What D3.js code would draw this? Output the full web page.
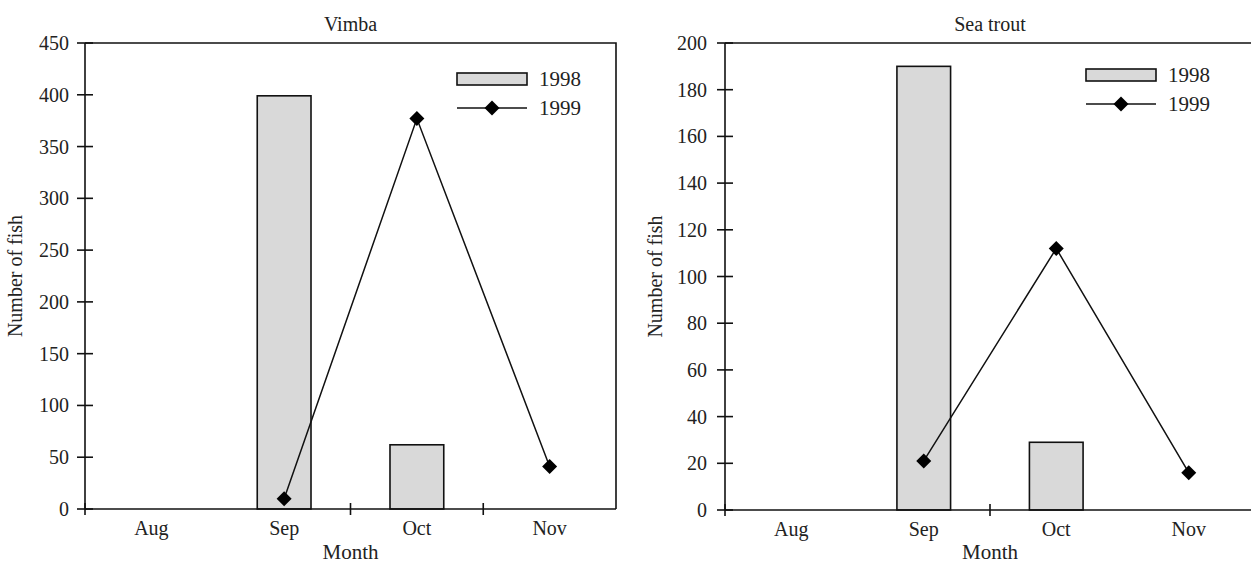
<!DOCTYPE html>
<html>
<head>
<meta charset="utf-8">
<script src="https://cdn.jsdelivr.net/npm/d3@7"></script>
<style>
  body { margin: 0; background: #fff; }
</style>
</head>
<body>
<div id="chart"></div>
<script>
// months on the category axis
var months = ["Aug", "Sep", "Oct", "Nov"];

// Vimba counts (null = no catch drawn)
var vimba1998 = [null, 399, 62, null];
var vimba1999 = [null, 10, 377, 41];
var vimbaTicks = [0, 50, 100, 150, 200, 250, 300, 350, 400, 450];

// Sea trout counts
var trout1998 = [null, 190, 29, null];
var trout1999 = [null, 21, 112, 16];
var troutTicks = [0, 20, 40, 60, 80, 100, 120, 140, 160, 180, 200];

var seriesNames = ["1998", "1999"];

var W = 1251, H = 563;
var serif = "'Liberation Serif', 'DejaVu Serif', 'Times New Roman', serif";
var svg = d3.select("#chart").append("svg")
    .attr("width", W).attr("height", H)
    .attr("font-family", serif);

function label(sel, size) {
    return sel.attr("font-family", serif).attr("fill", "#222").style("font-size", size + "px");
}

function drawPanel(p) {
    var g = svg.append("g");

    var x = d3.scaleBand().domain(months).range([p.left, p.right]).padding(0);
    var y = d3.scaleLinear().domain([0, p.ticks[p.ticks.length - 1]]).range([p.bottom, p.top]);

    // frame: top and right lines
    g.append("path")
        .attr("d", "M" + p.left + "," + p.top + "H" + p.right + "V" + p.bottom)
        .attr("fill", "none").attr("stroke", "#111").attr("stroke-width", 1.6);

    // bars (1998)
    var barW = x.bandwidth() * 0.405;
    g.selectAll("rect.bar")
        .data(p.bars.map(function(v, i) { return {m: months[i], v: v}; })
              .filter(function(d) { return d.v != null; }))
        .enter().append("rect")
        .attr("x", function(d) { return x(d.m) + (x.bandwidth() - barW) / 2; })
        .attr("y", function(d) { return y(d.v); })
        .attr("width", barW)
        .attr("height", function(d) { return y(0) - y(d.v); })
        .attr("fill", "#d9d9d9").attr("stroke", "#111").attr("stroke-width", 1.6);

    // y axis with crossing ticks
    g.append("line")
        .attr("x1", p.left).attr("x2", p.left)
        .attr("y1", p.top).attr("y2", p.bottom)
        .attr("stroke", "#111").attr("stroke-width", 1.6);
    g.selectAll("line.ytick").data(p.ticks).enter().append("line")
        .attr("x1", p.left - 8).attr("x2", p.left + 8)
        .attr("y1", function(d) { return y(d); }).attr("y2", function(d) { return y(d); })
        .attr("stroke", "#111").attr("stroke-width", 1.6);
    label(g.selectAll("text.ytick").data(p.ticks).enter().append("text"), 20)
        .attr("x", p.left - p.labGap)
        .attr("y", function(d) { return y(d); })
        .attr("dy", "0.35em")
        .attr("text-anchor", "end")
        .text(function(d) { return d; });

    // x axis
    g.append("line")
        .attr("x1", p.left).attr("x2", p.right)
        .attr("y1", p.bottom).attr("y2", p.bottom)
        .attr("stroke", "#111").attr("stroke-width", 1.6);
    g.selectAll("line.xtick").data(p.xTickAt).enter().append("line")
        .attr("x1", function(i) { return p.left + i * x.step(); })
        .attr("x2", function(i) { return p.left + i * x.step(); })
        .attr("y1", p.bottom - 6).attr("y2", p.bottom + 6)
        .attr("stroke", "#111").attr("stroke-width", 1.6);
    label(g.selectAll("text.xlab").data(months).enter().append("text"), 20)
        .attr("x", function(d) { return x(d) + x.bandwidth() / 2; })
        .attr("y", p.bottom + 26)
        .attr("text-anchor", "middle")
        .text(function(d) { return d; });

    // line (1999)
    var pts = p.line.map(function(v, i) { return {m: months[i], v: v}; })
        .filter(function(d) { return d.v != null; });
    var line = d3.line()
        .x(function(d) { return x(d.m) + x.bandwidth() / 2; })
        .y(function(d) { return y(d.v); });
    g.append("path").datum(pts)
        .attr("d", line)
        .attr("fill", "none").attr("stroke", "#111").attr("stroke-width", 1.5);
    var dia = "M0,-7.5L7.5,0L0,7.5L-7.5,0Z";
    g.selectAll("path.mark").data(pts).enter().append("path")
        .attr("d", dia)
        .attr("transform", function(d) {
            return "translate(" + (x(d.m) + x.bandwidth() / 2) + "," + y(d.v) + ")";
        })
        .attr("fill", "#000");

    // titles
    var cx = (p.left + p.right) / 2;
    label(g.append("text"), 20).attr("x", cx).attr("y", 31)
        .attr("text-anchor", "middle").text(p.title);
    label(g.append("text"), 21).attr("x", cx).attr("y", 559)
        .attr("text-anchor", "middle").text("Month");
    label(g.append("text"), 20)
        .attr("transform", "translate(" + (p.left - 63) + "," + ((p.top + p.bottom) / 2) + ") rotate(-90)")
        .attr("text-anchor", "middle").text("Number of fish");

    // legend
    var lx = p.legX, ly = p.legY;
    g.append("rect")
        .attr("x", lx).attr("y", ly - 6).attr("width", 70).attr("height", 12)
        .attr("fill", "#d9d9d9").attr("stroke", "#111").attr("stroke-width", 1.6);
    label(g.append("text"), 21).attr("x", lx + 82).attr("y", ly).attr("dy", "0.35em")
        .text(seriesNames[0]);
    g.append("line")
        .attr("x1", lx).attr("x2", lx + 70)
        .attr("y1", ly + 29).attr("y2", ly + 29)
        .attr("stroke", "#111").attr("stroke-width", 1.5);
    g.append("path").attr("d", dia)
        .attr("transform", "translate(" + (lx + 35) + "," + (ly + 29) + ")")
        .attr("fill", "#000");
    label(g.append("text"), 21).attr("x", lx + 82).attr("y", ly + 29).attr("dy", "0.35em")
        .text(seriesNames[1]);
}

drawPanel({
    title: "Vimba", left: 85, right: 616, top: 43, bottom: 509,
    ticks: vimbaTicks, bars: vimba1998, line: vimba1999,
    xTickAt: [0, 2, 3], legX: 457, legY: 79, labGap: 16
});

drawPanel({
    title: "Sea trout", left: 725, right: 1255, top: 43, bottom: 510,
    ticks: troutTicks, bars: trout1998, line: trout1999,
    xTickAt: [0, 2], legX: 1086, legY: 75, labGap: 18
});
</script>
</body>
</html>
